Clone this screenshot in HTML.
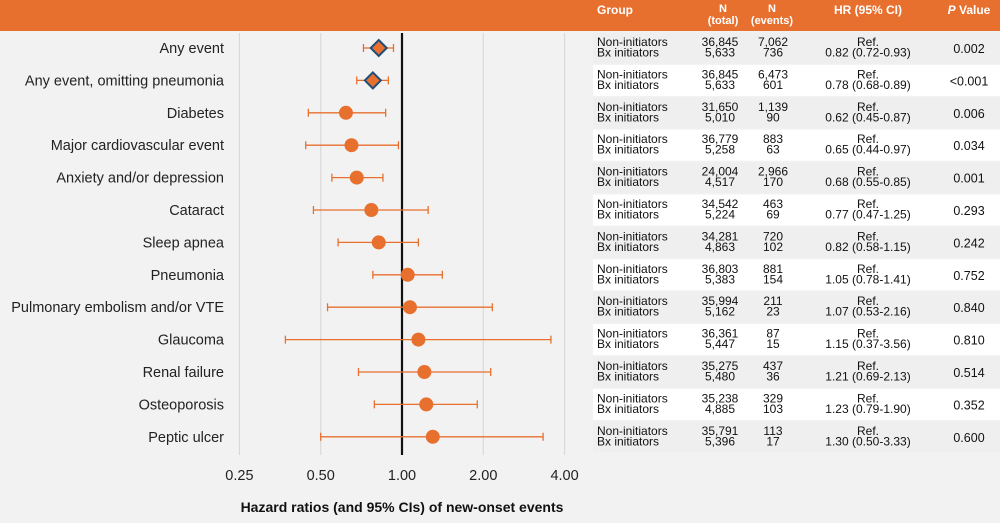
<!DOCTYPE html>
<html><head><meta charset="utf-8"><style>
body{margin:0;background:#f2f2f2;}
svg{display:block;font-family:"Liberation Sans",sans-serif;}
</style></head><body>
<svg id="c" width="1000" height="523" viewBox="0 0 1000 523">
<rect x="0" y="0" width="1000" height="523" fill="#f2f2f2"/>
<rect x="0" y="0" width="1000" height="31" fill="#E8702F"/>
<g fill="#fff" font-weight="bold" font-size="12">
<text x="597" y="14">Group</text>
<text x="723" y="12" text-anchor="middle" font-size="11">N</text>
<text x="723" y="24" text-anchor="middle" font-size="11">(total)</text>
<text x="772" y="12" text-anchor="middle" font-size="11">N</text>
<text x="772" y="24" text-anchor="middle" font-size="11">(events)</text>
<text x="868" y="14" text-anchor="middle">HR (95% CI)</text>
<text x="969" y="14" text-anchor="middle"><tspan font-style="italic">P</tspan> Value</text>
</g>
<g id="grid"></g><g id="rows"></g><g id="marks"></g><g id="axis"></g>
<text x="402" y="512" text-anchor="middle" font-weight="bold" font-size="14" fill="#111">Hazard ratios (and 95% CIs) of new-onset events</text>
</svg>
<script>
const labels=["Any event","Any event, omitting pneumonia","Diabetes","Major cardiovascular event","Anxiety and/or depression","Cataract","Sleep apnea","Pneumonia","Pulmonary embolism and/or VTE","Glaucoma","Renal failure","Osteoporosis","Peptic ulcer"];
const hr=[0.82,0.78,0.62,0.65,0.68,0.77,0.82,1.05,1.07,1.15,1.21,1.23,1.30];
const lo=[0.72,0.68,0.45,0.44,0.55,0.47,0.58,0.78,0.53,0.37,0.69,0.79,0.50];
const hi=[0.93,0.89,0.87,0.97,0.85,1.25,1.15,1.41,2.16,3.56,2.13,1.90,3.33];
const nTotNon=["36,845","36,845","31,650","36,779","24,004","34,542","34,281","36,803","35,994","36,361","35,275","35,238","35,791"];
const nTotBx=["5,633","5,633","5,010","5,258","4,517","5,224","4,863","5,383","5,162","5,447","5,480","4,885","5,396"];
const nEvNon=["7,062","6,473","1,139","883","2,966","463","720","881","211","87","437","329","113"];
const nEvBx=["736","601","90","63","170","69","102","154","23","15","36","103","17"];
const pvals=["0.002","<0.001","0.006","0.034","0.001","0.293","0.242","0.752","0.840","0.810","0.514","0.352","0.600"];
const ticks=[0.25,0.5,1,2,4];
const tickLabels=["0.25","0.50","1.00","2.00","4.00"];
const NS="http://www.w3.org/2000/svg";
const xs=v=>402+Math.log2(v)*81.3;
const ys=i=>48+i*32.4;
function mk(t,a,p){const e=document.createElementNS(NS,t);for(const k in a)e.setAttribute(k,a[k]);p.appendChild(e);return e;}
const G=document.getElementById('grid'),R=document.getElementById('rows'),M=document.getElementById('marks'),A=document.getElementById('axis');
ticks.forEach((t,i)=>{
 const l=mk('line',{x1:xs(t),x2:xs(t),y1:33,y2:455,stroke:t===1?'#111':'#d9d9d9','stroke-width':t===1?2.2:1.2},G);
 
 
 const tx=mk('text',{x:xs(t),y:480,'text-anchor':'middle','font-size':14.5,fill:'#222'},A);tx.textContent=tickLabels[i];
 
 
});
labels.forEach((lab,i)=>{
 const y=ys(i);
 const bg=mk('rect',{x:593,y:y-15.5,width:407,height:31,fill:i%2===0?'#efefef':'#ffffff'},R);
 
 
 const lt=mk('text',{x:224,y:y+5,'text-anchor':'end','font-size':14.5,fill:'#222'},R);lt.textContent=lab;
 
 
 const cells=[[597,'start',"Non-initiators","Bx initiators"],[720,'middle',nTotNon[i],nTotBx[i]],[773,'middle',nEvNon[i],nEvBx[i]],[868,'middle',"Ref.",hr[i].toFixed(2)+" ("+lo[i].toFixed(2)+"-"+hi[i].toFixed(2)+")"]];
 cells.forEach(c=>{
  const a=mk('text',{x:c[0],y:y-2,'text-anchor':c[1],'font-size':12,fill:'#111'},R);a.textContent=c[2];
  
  
  const b=mk('text',{x:c[0],y:y+8.5,'text-anchor':c[1],'font-size':12,fill:'#111'},R);b.textContent=c[3];
  
  
 });
 const p=mk('text',{x:969,y:y+5,'text-anchor':'middle','font-size':12.5,fill:'#111'},R);p.textContent=pvals[i];
 
 
 const ci=mk('path',{d:`M${xs(lo[i])},${y}H${xs(hi[i])}M${xs(lo[i])},${y-4}V${y+4}M${xs(hi[i])},${y-4}V${y+4}`,stroke:'#E8702F','stroke-width':1.3,fill:'none'},M);
 
 
 const cx=xs(hr[i]);let m;
 if(i<2){m=mk('path',{d:`M${cx},${y-8}L${cx+8},${y}L${cx},${y+8}L${cx-8},${y}Z`,fill:'#E8702F',stroke:'#1F4E79','stroke-width':2},M);}
 else{m=mk('circle',{cx:cx,cy:y,r:7,fill:'#E8702F'},M);}
 
 
});
</script>
</body></html>
